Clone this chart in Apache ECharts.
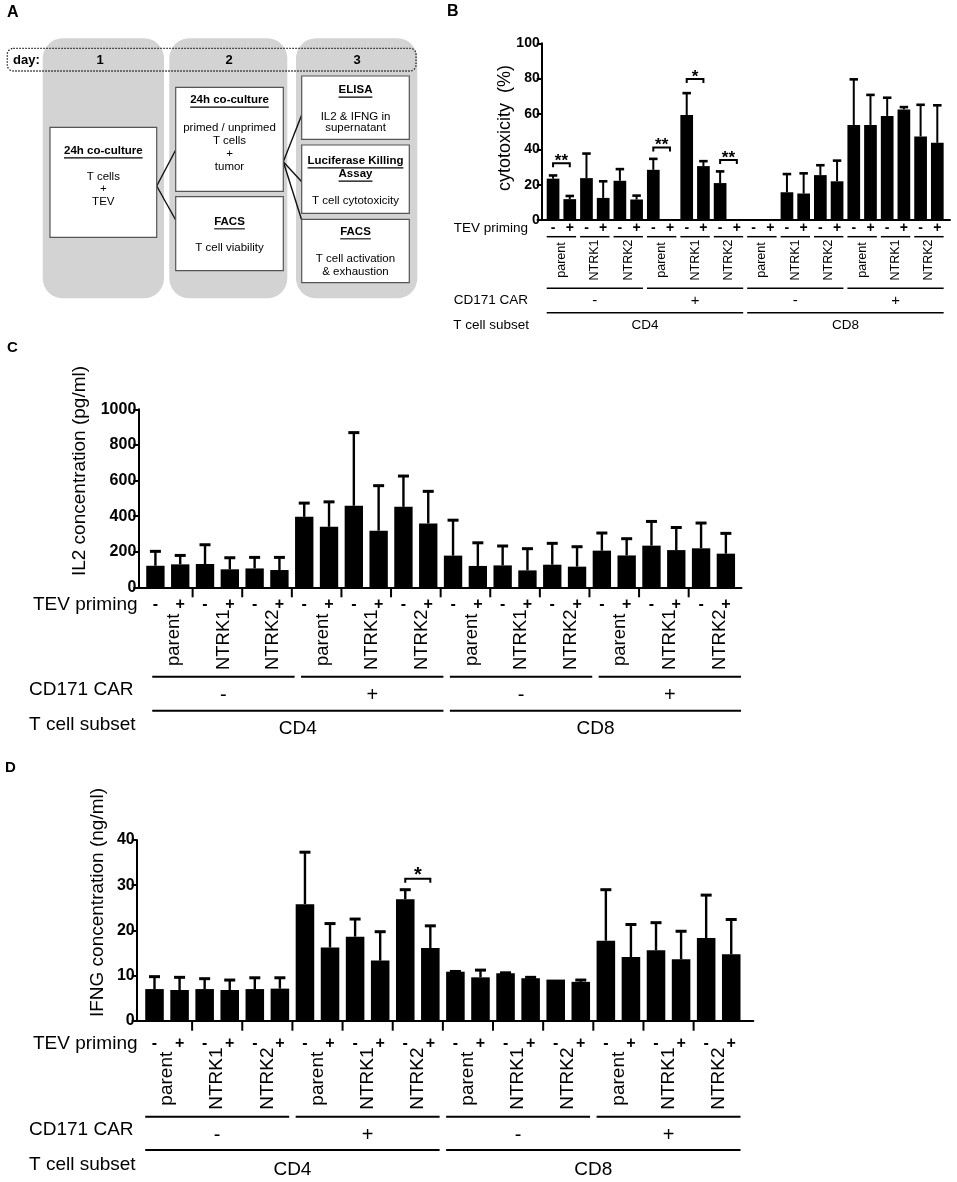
<!DOCTYPE html>
<html lang="en">
<head>
<meta charset="UTF-8">
<title>TEV priming</title>
<script src="https://cdn.jsdelivr.net/npm/echarts/dist/echarts.min.js"></script>
<style>
    html, body { margin: 0; padding: 0; background: #fff; }
    #main { width: 957px; height: 1182px; }
</style>
</head>
<body>
<div id="main"></div>
<script>
var FONT = '"Liberation Sans", Arial, Helvetica, sans-serif';

// categories shared by B, C, D (24 bars = 12 pairs of -/+ TEV priming)
var priming = ['-', '+'];
var cellLines = ['parent', 'NTRK1', 'NTRK2', 'parent', 'NTRK1', 'NTRK2',
                 'parent', 'NTRK1', 'NTRK2', 'parent', 'NTRK1', 'NTRK2'];
var carGroups = ['-', '+', '-', '+'];
var subsets = ['CD4', 'CD8'];

// B: cytotoxicity (%)
var cytoMean = [23.4, 11.8, 23.7, 12.5, 22.2, 11.6, 28.4, 0, 59.4, 30.5, 20.9, 0,
                0, 0, 15.7, 15.0, 25.4, 21.9, 53.8, 53.8, 58.9, 62.6, 47.3, 43.7];
var cytoSd = [1.8, 1.8, 13.9, 9.4, 6.6, 2.2, 6.2, 0, 12.4, 2.8, 6.6, 0,
              0, 0, 10.3, 11.4, 5.6, 11.7, 25.8, 17.0, 10.3, 1.3, 17.9, 21.2];
var cytoSig = [[0, 1, 32.1, '**'], [6, 7, 41.1, '**'], [8, 9, 79.8, '*'], [10, 11, 34.0, '**']];

// C: IL2 (pg/ml)
var il2Mean = [121, 129, 131, 101, 106, 97, 396, 340, 458, 318, 452, 359,
               178, 120, 123, 95, 127, 116, 206, 179, 234, 209, 219, 189];
var il2Sd = [81, 50, 108, 65, 62, 71, 77, 140, 411, 253, 173, 180,
             199, 130, 109, 122, 120, 112, 99, 94, 136, 127, 142, 114];
var il2Sig = [];

// D: IFNG (ng/ml)
var ifngMean = [7.0, 6.8, 7.0, 6.8, 7.0, 7.1, 25.8, 16.2, 18.6, 13.3, 26.9, 16.1,
                10.85, 9.6, 10.5, 9.4, 9.1, 8.6, 17.7, 14.1, 15.6, 13.6, 18.3, 14.7];
var ifngSd = [2.75, 2.8, 2.3, 2.2, 2.5, 2.4, 11.5, 5.3, 3.9, 6.4, 2.1, 4.9,
              0.05, 1.6, 0.1, 0.2, 0, 0.4, 11.3, 7.2, 6.1, 6.2, 9.5, 7.7];
var ifngSig = [[10, 11, 31.4, '*']];

// y axis ranges [max, interval]
var cytoAxis = [100, 20];
var il2Axis = [1000, 200];
var ifngAxis = [40, 10];

// per panel drawing settings
var panels = [
    {grid: {left: 541.7, top: 43.3, width: 408.3, height: 176.7}, xmin: -0.68, xmax: 23.76,
     mean: cytoMean, sd: cytoSd, sig: cytoSig, axis: cytoAxis, tickFont: 14,
     barW: 0.76, capW: 8.5, errW: 2, capLW: 2.6, starFont: 17, starGap: 2,
     tevY: 8.3, signFont: 14, rotY: 40, rotFont: 12.5, dx: 0, pairLineY: 16.7, sepTicks: false,
     line1Y: 68.3, carY: 80.7, carFont: 15, line2Y: 92.7, subY: 105, subFont: 13.5, lineW: 1.5},
    {grid: {left: 138.3, top: 409.3, width: 603.2, height: 178}, xmin: -0.69, xmax: 23.63,
     mean: il2Mean, sd: il2Sd, sig: il2Sig, axis: il2Axis, tickFont: 16,
     barW: 0.74, capW: 11, errW: 2.4, capLW: 3, starFont: 20, starGap: 3,
     tevY: 17.7, signFont: 16, rotY: 52.5, rotFont: 18.5, dx: 6, pairLineY: null, sepTicks: true,
     line1Y: 89.4, carY: 107.7, carFont: 20, line2Y: 123.4, subY: 141.7, subFont: 19, lineW: 2},
    {grid: {left: 136.7, top: 840, width: 616.6, height: 180.7}, xmin: -0.71, xmax: 23.88,
     mean: ifngMean, sd: ifngSd, sig: ifngSig, axis: ifngAxis, tickFont: 16,
     barW: 0.74, capW: 11, errW: 2.4, capLW: 3, starFont: 20, starGap: 3,
     tevY: 22.6, signFont: 16, rotY: 58, rotFont: 19, dx: 0, pairLineY: null, sepTicks: true,
     line1Y: 96, carY: 114.3, carFont: 20, line2Y: 129.3, subY: 149.3, subFont: 19, lineW: 2}
];

function txt(x, y, str, size, bold, align, rot) {
    var el = {
        type: 'text', x: x, y: y,
        style: {
            text: str, fill: '#000', fontSize: size, fontFamily: FONT,
            fontWeight: bold ? 'bold' : 'normal',
            align: align || 'center', verticalAlign: 'middle',
            textAlign: align || 'center', textVerticalAlign: 'middle'
        }
    };
    if (rot) el.rotation = rot;
    return el;
}
function seg(x1, y1, x2, y2, w) {
    return {type: 'line', shape: {x1: x1, y1: y1, x2: x2, y2: y2},
            style: {stroke: '#000', lineWidth: w}};
}

function barItem(p) {
    return function (params, api) {
        var i = api.value(0), m = api.value(1), sd = api.value(2);
        if (!m) return;
        var base = api.coord([i, 0]), top = api.coord([i, m]), hi = api.coord([i, m + sd]);
        var w = api.size([1, 0])[0] * p.barW;
        var kids = [{type: 'rect', shape: {x: base[0] - w / 2, y: top[1], width: w, height: base[1] - top[1]},
                     style: {fill: '#000'}}];
        if (sd > 0) {
            kids.push(seg(base[0], top[1], base[0], hi[1], p.errW));
            kids.push(seg(base[0] - p.capW / 2, hi[1], base[0] + p.capW / 2, hi[1], p.capLW));
        }
        return {type: 'group', children: kids};
    };
}

function sigItem(p) {
    return function (params, api) {
        var s = p.sig[params.dataIndex];
        var a = api.coord([s[0], s[2]]), b = api.coord([s[1], s[2]]);
        return {type: 'group', children: [
            {type: 'polyline', shape: {points: [[a[0], a[1] + 4], [a[0], a[1]], [b[0], b[1]], [b[0], b[1] + 4]]},
             style: {stroke: '#000', lineWidth: 2, fill: null}},
            txt((a[0] + b[0]) / 2, a[1] - p.starGap, s[3], p.starFont, true)
        ]};
    };
}

function pairItem(p) {
    return function (params, api) {
        var k = params.dataIndex;
        var a = api.coord([2 * k, 0]), b = api.coord([2 * k + 1, 0]);
        var step = b[0] - a[0], y0 = a[1], half = step * p.barW / 2;
        var kids = [
            txt(a[0], y0 + p.tevY, priming[0], p.signFont, true),
            txt(b[0], y0 + p.tevY, priming[1], p.signFont, true),
            txt((a[0] + b[0]) / 2 + p.dx, y0 + p.rotY, cellLines[k], p.rotFont, false, 'center', Math.PI / 2)
        ];
        if (p.pairLineY) kids.push(seg(a[0] - half, y0 + p.pairLineY, b[0] + half, y0 + p.pairLineY, p.lineW));
        if (p.sepTicks && k < cellLines.length - 1) kids.push(seg(b[0] + step / 2, y0, b[0] + step / 2, y0 + 10, 2));
        return {type: 'group', children: kids};
    };
}

function groupItem(p, labels, size, lineY, textY, font) {
    return function (params, api) {
        var g = params.dataIndex;
        var a = api.coord([g * size, 0]), b = api.coord([g * size + size - 1, 0]);
        var half = api.size([1, 0])[0] * p.barW / 2;
        return {type: 'group', children: [
            seg(a[0] - half + p.dx, a[1] + lineY, b[0] + half + p.dx, a[1] + lineY, p.lineW),
            txt((a[0] + b[0]) / 2 + p.dx, a[1] + textY, labels[g], font, false)
        ]};
    };
}

var grids = [], xAxes = [], yAxes = [], series = [];
panels.forEach(function (p, n) {
    grids.push(p.grid);
    xAxes.push({
        type: 'value', gridIndex: n, min: p.xmin, max: p.xmax,
        axisLine: {show: true, onZero: false, lineStyle: {color: '#000', width: 2}},
        axisTick: {show: false}, axisLabel: {show: false}, splitLine: {show: false}
    });
    yAxes.push({
        type: 'value', gridIndex: n, min: 0, max: p.axis[0], interval: p.axis[1],
        axisLine: {show: true, onZero: false, lineStyle: {color: '#000', width: 2}},
        axisTick: {show: true, length: 5, lineStyle: {color: '#000', width: 2}},
        axisLabel: {color: '#000', fontFamily: FONT, fontWeight: 'bold', fontSize: p.tickFont, margin: 2,
                    formatter: function (v) { return String(v); }},
        splitLine: {show: false}
    });
    var ax = {xAxisIndex: n, yAxisIndex: n, type: 'custom', clip: false, silent: true};
    series.push(Object.assign({}, ax, {
        data: p.mean.map(function (m, i) { return [i, m, p.sd[i]]; }), renderItem: barItem(p)}));
    series.push(Object.assign({}, ax, {
        data: p.sig.map(function (s) { return [s[0], s[2]]; }), renderItem: sigItem(p)}));
    series.push(Object.assign({}, ax, {
        data: cellLines.map(function (c, k) { return [2 * k, 0]; }), renderItem: pairItem(p)}));
    series.push(Object.assign({}, ax, {
        data: carGroups.map(function (c, g) { return [6 * g, 0]; }),
        renderItem: groupItem(p, carGroups, 6, p.line1Y, p.carY, p.carFont)}));
    series.push(Object.assign({}, ax, {
        data: subsets.map(function (c, g) { return [12 * g, 0]; }),
        renderItem: groupItem(p, subsets, 12, p.line2Y, p.subY, p.subFont)}));
});

// ---- panel A (schematic) and static texts ----
var mctx = document.createElement('canvas').getContext('2d');
function textWidth(str, size, bold) {
    mctx.font = (bold ? 'bold ' : '') + size + 'px ' + FONT;
    return mctx.measureText(str).width;
}
function uText(x, y, str, size) {
    var w = textWidth(str, size, true);
    return {type: 'group', children: [
        txt(x, y, str, size, true),
        seg(x - w / 2, y + size * 0.62, x + w / 2, y + size * 0.62, 1.1)
    ]};
}
function box(x, y, w, h) {
    return {type: 'rect', shape: {x: x, y: y, width: w, height: h},
            style: {fill: '#fff', stroke: '#555', lineWidth: 1.2}};
}
function gline(x1, y1, x2, y2) {
    return {type: 'line', shape: {x1: x1, y1: y1, x2: x2, y2: y2}, style: {stroke: '#111', lineWidth: 1.4}};
}
var fa = 11.5;
var graphic = [
    {type: 'rect', shape: {x: 42.7, y: 38.3, width: 121.3, height: 260, r: 20}, style: {fill: '#d3d3d3'}},
    {type: 'rect', shape: {x: 169.3, y: 38.3, width: 118, height: 260, r: 20}, style: {fill: '#d3d3d3'}},
    {type: 'rect', shape: {x: 296, y: 38.3, width: 121.3, height: 260, r: 20}, style: {fill: '#d3d3d3'}},
    {type: 'rect', shape: {x: 7.3, y: 48.3, width: 408.7, height: 22.7, r: 6},
     style: {fill: null, stroke: '#222', lineWidth: 1.3, lineDash: [1.5, 1.5]}},
    txt(13, 60, 'day:', 13, true, 'left'),
    txt(100, 60, '1', 13, true), txt(229, 60, '2', 13, true), txt(357, 60, '3', 13, true),
    gline(156.7, 186, 175.7, 150), gline(156.7, 186, 175.7, 220),
    gline(283.3, 161.7, 301.7, 115), gline(283.3, 161.7, 301.7, 181.7), gline(283.3, 161.7, 301.7, 220),
    box(50, 127.3, 106.7, 110),
    box(175.7, 87.3, 107.6, 104),
    box(175.7, 196.7, 107.6, 74),
    box(301.7, 76, 107.6, 63.3),
    box(301.7, 145, 107.6, 68.3),
    box(301.7, 219.3, 107.6, 63.4),
    uText(103.3, 150.7, '24h co-culture', fa),
    txt(103.3, 176.7, 'T cells', fa), txt(103.3, 189.3, '+', fa), txt(103.3, 201.7, 'TEV', fa),
    uText(229.5, 100, '24h co-culture', fa),
    txt(229.5, 128.3, 'primed / unprimed', fa), txt(229.5, 140.7, 'T cells', fa),
    txt(229.5, 154, '+', fa), txt(229.5, 166.7, 'tumor', fa),
    uText(229.5, 221.7, 'FACS', fa), txt(229.5, 248.3, 'T cell viability', fa),
    uText(355.5, 90, 'ELISA', fa), txt(355.5, 116.7, 'IL2 & IFNG in', fa), txt(355.5, 128.3, 'supernatant', fa),
    uText(355.5, 160.7, 'Luciferase Killing', fa), uText(355.5, 174, 'Assay', fa),
    txt(355.5, 201, 'T cell cytotoxicity', fa),
    uText(355.5, 231.7, 'FACS', fa), txt(355.5, 259, 'T cell activation', fa), txt(355.5, 271.7, '& exhaustion', fa),

    // panel letters
    txt(7, 13, 'A', 16, true, 'left'),
    txt(447, 12, 'B', 16, true, 'left'),
    txt(7, 348, 'C', 15, true, 'left'),
    txt(5, 768, 'D', 15, true, 'left'),

    // axis titles
    txt(505, 128, 'cytotoxicity  (%)', 18, false, 'center', Math.PI / 2),
    txt(80, 471, 'IL2 concentration (pg/ml)', 19, false, 'center', Math.PI / 2),
    txt(97.5, 902.5, 'IFNG concentration (ng/ml)', 19, false, 'center', Math.PI / 2),

    // row labels
    txt(528, 228.3, 'TEV priming', 13.5, false, 'right'),
    txt(528, 300.7, 'CD171 CAR', 13.5, false, 'right'),
    txt(529, 325, 'T cell subset', 13.5, false, 'right'),
    txt(33, 605, 'TEV priming', 19, false, 'left'),
    txt(29, 690, 'CD171 CAR', 19, false, 'left'),
    txt(29, 725, 'T cell subset', 19, false, 'left'),
    txt(33, 1043.3, 'TEV priming', 19, false, 'left'),
    txt(29, 1130, 'CD171 CAR', 19, false, 'left'),
    txt(29, 1165, 'T cell subset', 19, false, 'left')
];

var chart = echarts.init(document.getElementById('main'), null, {renderer: 'canvas'});
chart.setOption({
    animation: false,
    backgroundColor: '#fff',
    grid: grids,
    xAxis: xAxes,
    yAxis: yAxes,
    series: series,
    graphic: graphic
});
</script>
</body>
</html>
